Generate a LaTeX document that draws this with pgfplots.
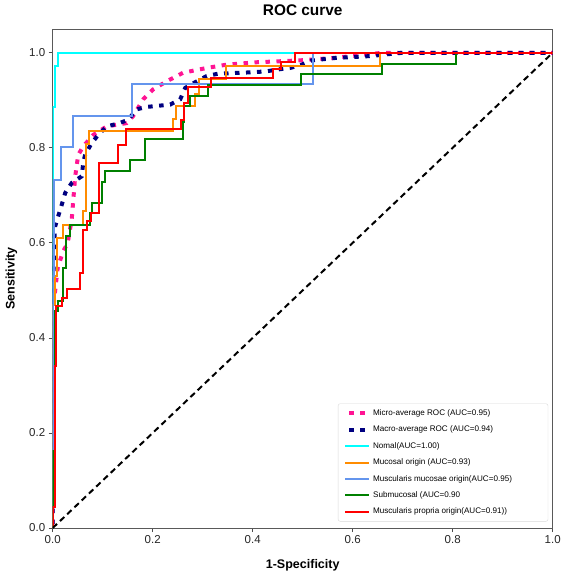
\documentclass[border=0pt]{standalone}
\usepackage{pgfplots}
\pgfplotsset{compat=1.18}
\usepackage{fontspec}
\setmainfont{Liberation Sans}
\definecolor{cdeeppink}{RGB}{255,20,147}
\definecolor{cnavy}{RGB}{0,0,128}
\definecolor{ccyan}{RGB}{0,255,255}
\definecolor{corange}{RGB}{255,140,0}
\definecolor{cblue}{RGB}{100,149,237}
\definecolor{cgreen}{RGB}{0,128,0}
\definecolor{cred}{RGB}{255,0,0}
\begin{document}
\begin{tikzpicture}
\begin{axis}[
  scale only axis, width=500pt, height=499pt,
  xmin=0, xmax=1, ymin=0, ymax=1.05,
  xtick={0,0.2,0.4,0.6,0.8,1.0}, ytick={0,0.2,0.4,0.6,0.8,1.0},
  /pgf/number format/assume math mode=true,
  /pgf/number format/.cd, fixed, fixed zerofill, precision=1, /pgfplots/.cd,
  tick label style={font=\fontsize{11.5}{13}\selectfont, text=black!85},
  tick align=outside, major tick length=4pt, tick pos=left,
  every tick/.style={black!70, line width=0.8pt},
  axis line style={black!65, line width=0.9pt},
  title={\textbf{ROC curve}},
  title style={font=\fontsize{15.4}{18}\selectfont, at={(axis description cs:0.5,1)}, anchor=base, yshift=7pt},
  xlabel={\textbf{1-Specificity}},
  xlabel style={font=\fontsize{12.5}{15}\selectfont, at={(axis description cs:0.5,0)}, anchor=base, yshift=-40pt},
  ylabel={\textbf{Sensitivity}},
  ylabel style={font=\fontsize{12.5}{15}\selectfont, at={(axis description cs:-0.076,0.5)}, anchor=base, rotate=0},
  legend image code/.code={\draw[#1] (0pt,0pt) -- (24pt,0pt);},
  legend cell align=left,
  legend style={at={(0.991,0.013)}, anchor=south east,
    font=\fontsize{8.1}{9.5}\selectfont, draw=black!15, rounded corners=2pt,
    fill=white, inner xsep=5pt, inner ysep=4pt, row sep=5pt},
]
\addplot[cdeeppink, line width=4pt, line cap=butt, dash pattern=on 4.5pt off 6.5pt, dash phase=-4pt] coordinates {
(0,0)(0,0.45)(0.005,0.5)(0.01,0.547)(0.02,0.58)(0.03,0.6)(0.038,0.649)(0.045,0.74)(0.051,0.785)(0.061,0.803)(0.081,0.827)(0.108,0.845)(0.148,0.852)(0.161,0.867)(0.181,0.902)(0.201,0.923)(0.228,0.94)(0.261,0.958)(0.308,0.968)(0.348,0.975)(0.408,0.98)(0.495,0.984)(0.561,0.989)(0.66,1)(1,1)};
\addlegendentry{Micro-average ROC (AUC=0.95)}
\addplot[cnavy, line width=4pt, line cap=butt, dash pattern=on 4.5pt off 6.5pt, dash phase=-4pt] coordinates {
(0,0)(0,0.48)(0.003,0.6)(0.005,0.635)(0.011,0.656)(0.018,0.68)(0.025,0.705)(0.038,0.726)(0.058,0.74)(0.061,0.768)(0.065,0.786)(0.078,0.81)(0.091,0.827)(0.108,0.845)(0.131,0.851)(0.151,0.859)(0.168,0.881)(0.188,0.886)(0.235,0.891)(0.255,0.902)(0.265,0.926)(0.285,0.938)(0.308,0.951)(0.331,0.956)(0.401,0.959)(0.428,0.961)(0.451,0.965)(0.475,0.968)(0.498,0.975)(0.518,0.984)(0.565,0.989)(0.635,0.993)(0.68,0.998)(0.7,1)(1,1)};
\addlegendentry{Macro-average ROC (AUC=0.94)}
\addplot[ccyan, line width=2pt] coordinates {
(0,0)(0,0.886)(0.005,0.886)(0.005,0.973)(0.011,0.973)(0.011,1)(1,1)};
\addlegendentry{Nomal(AUC=1.00)}
\addplot[corange, line width=2pt] coordinates {
(0,0)(0,0.47)(0.005,0.47)(0.005,0.53)(0.008,0.53)(0.008,0.61)(0.02,0.61)(0.02,0.638)(0.06,0.638)(0.06,0.668)(0.066,0.668)(0.066,0.807)(0.073,0.807)(0.073,0.835)(0.241,0.835)(0.241,0.861)(0.247,0.861)(0.247,0.889)(0.285,0.889)(0.285,0.914)(0.292,0.914)(0.292,0.945)(0.346,0.945)(0.346,0.973)(0.655,0.973)(0.655,1)(1,1)};
\addlegendentry{Mucosal origin (AUC=0.93)}
\addplot[cblue, line width=2pt] coordinates {
(0,0)(0,0.53)(0.003,0.53)(0.003,0.733)(0.016,0.733)(0.016,0.801)(0.04,0.801)(0.04,0.867)(0.158,0.867)(0.158,0.935)(0.521,0.935)(0.521,1)(1,1)};
\addlegendentry{Muscularis mucosae origin(AUC=0.95)\rule{29pt}{0pt}}
\addplot[cgreen, line width=2pt] coordinates {
(0,0)(0,0.161)(0.005,0.161)(0.005,0.456)(0.01,0.456)(0.01,0.477)(0.02,0.477)(0.02,0.547)(0.027,0.547)(0.027,0.614)(0.035,0.614)(0.035,0.638)(0.075,0.638)(0.075,0.663)(0.078,0.663)(0.078,0.684)(0.098,0.684)(0.098,0.728)(0.105,0.728)(0.105,0.751)(0.155,0.751)(0.155,0.774)(0.185,0.774)(0.185,0.819)(0.261,0.819)(0.261,0.854)(0.263,0.854)(0.263,0.889)(0.275,0.889)(0.275,0.909)(0.311,0.909)(0.311,0.933)(0.496,0.933)(0.496,0.956)(0.658,0.956)(0.658,0.977)(0.806,0.977)(0.806,1)(1,1)};
\addlegendentry{Submucosal (AUC=0.90}
\addplot[cred, line width=2pt] coordinates {
(0,0)(0,0.045)(0.004,0.045)(0.004,0.34)(0.007,0.34)(0.007,0.467)(0.018,0.467)(0.018,0.484)(0.028,0.484)(0.028,0.502)(0.055,0.502)(0.055,0.537)(0.061,0.537)(0.061,0.628)(0.068,0.628)(0.068,0.645)(0.076,0.645)(0.076,0.663)(0.093,0.663)(0.093,0.768)(0.131,0.768)(0.131,0.805)(0.147,0.805)(0.147,0.84)(0.256,0.84)(0.256,0.859)(0.262,0.859)(0.262,0.895)(0.271,0.895)(0.271,0.928)(0.316,0.928)(0.316,0.947)(0.44,0.947)(0.44,0.965)(0.456,0.965)(0.456,0.98)(0.485,0.98)(0.485,1)(1,1)};
\addlegendentry{Muscularis propria origin(AUC=0.91))}
\addplot[black, line width=2pt, dash pattern=on 6pt off 4pt, forget plot] coordinates {(0,0)(1,1)};
\end{axis}
\path (current axis.south west) ++(-52.7pt,-48pt);
\path (current axis.north east) ++(14pt,29pt);
\end{tikzpicture}
\end{document}
